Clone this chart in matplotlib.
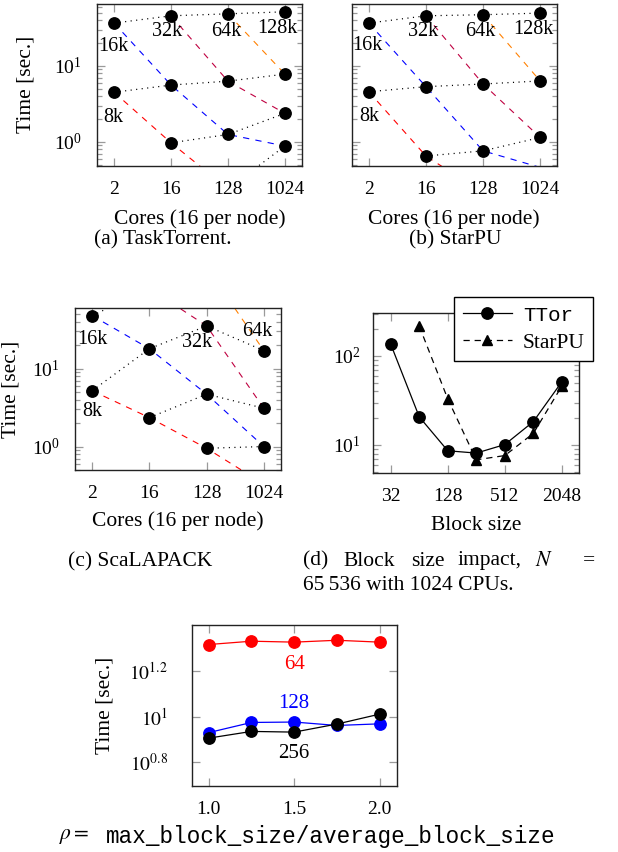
import numpy as np
import matplotlib
matplotlib.use('Agg')
import matplotlib.pyplot as plt
from matplotlib.ticker import LogLocator, NullFormatter, NullLocator, FixedLocator, FixedFormatter

plt.rcParams['font.family'] = ['Liberation Serif', 'DejaVu Serif']
plt.rcParams['mathtext.fontset'] = 'stix'
plt.rcParams['lines.scale_dashes'] = False

nan = np.nan

# ---------------- data ----------------
cores = [2, 16, 128, 1024]
size_labels = ['8k', '16k', '32k', '64k', '128k']
size_colors = ['#ff0000', '#0000ff', '#bf0040', '#ff8000', '#000000']

# times [sec.] per matrix size (rows) and core count (columns)
tasktorrent_times = [
    [4.5, 0.97, 0.24, nan],     # 8k
    [36.7, 5.6, 1.25, 0.88],    # 16k
    [nan, 45.8, 6.3, 2.37],     # 32k
    [nan, nan, 48.6, 7.8],      # 64k
    [nan, nan, nan, 51.7],      # 128k
]
starpu_times = [
    [4.57, 0.65, 0.21, nan],
    [36.7, 5.33, 0.76, 0.46],
    [nan, 45.8, 5.78, 1.14],
    [nan, nan, 47.3, 6.34],
    [nan, nan, nan, 49.7],
]
scalapack_times = [
    [5.2, 2.35, 0.95, 0.33],
    [47.8, 18.0, 4.7, 1.0],
    [nan, 107.0, 35.3, 3.1],
    [nan, nan, 200.0, 17.0],
    [nan, nan, nan, nan],
]

block_sizes_ttor = [32, 64, 128, 256, 512, 1024, 2048]
block_times_ttor = [136, 20.7, 8.6, 8.1, 10.1, 18.3, 51.4]
block_sizes_starpu = [64, 128, 256, 512, 1024, 2048]
block_times_starpu = [217, 32.9, 6.8, 7.6, 13.5, 46]

rho = [1.0, 1.25, 1.5, 1.75, 2.0]
rho_times_64 = [20.6, 21.3, 21.1, 21.5, 21.1]
rho_times_128 = [8.51, 9.42, 9.46, 9.14, 9.29]
rho_times_256 = [8.05, 8.61, 8.55, 9.27, 10.24]

# ---------------- figure ----------------
W, H = 618, 852
fig = plt.figure(figsize=(W / 100, H / 100), dpi=100)

TICK_GRAY = '#9a9a9a'
FS_TICK = 14
FS_LABEL = 15.5
FS_CAP = 15.5
FS_ANN = 14.5


def ax_px(x0, y0, x1, y1):
    return fig.add_axes([x0 / W, 1 - y1 / H, (x1 - x0) / W, (y1 - y0) / H])


def ftext(x, y, s, ha='center', va='center', **kw):
    return fig.text(x / W, 1 - y / H, s, ha=ha, va=va, **kw)


def style_axes(ax):
    for sp in ax.spines.values():
        sp.set_linewidth(1.0)
        sp.set_color('#222222')
    ax.tick_params(which='both', direction='in', top=True, right=True,
                   color=TICK_GRAY, width=0.9, labelsize=FS_TICK)
    ax.tick_params(which='major', length=6)
    ax.tick_params(which='minor', length=3.8)


def scaling_panel(ax, times, ylim, labels, show_y=True):
    ax.set_xscale('log', base=2)
    ax.set_yscale('log')
    # strong scaling (dashed, one colour per size)
    for i in range(4):
        ax.plot(cores, times[i], color=size_colors[i], lw=0.8,
                dashes=(4.5, 4.5), zorder=2)
    # weak scaling (dotted chains)
    for shift in [1, 0, -1, -2]:
        xs, ys = [], []
        for j, c in enumerate(cores):
            k = j + shift
            if 0 <= k < len(times):
                xs.append(c)
                ys.append(times[k][j])
        ax.plot(xs, ys, color='black', lw=0.9, dashes=(0.8, 3.2), zorder=2)
    # points (only those inside the visible range get a marker)
    for i in range(len(times)):
        vals = np.array(times[i], dtype=float)
        inside = (vals >= ylim[0]) & (vals <= ylim[1])
        ax.plot(np.array(cores)[inside], vals[inside], 'o', color='black',
                ms=8.2, zorder=4)
    for (k, j, dx, dy) in labels:
        ax.annotate(size_labels[k], (cores[j], times[k][j]),
                    xytext=(dx, -dy), textcoords='offset pixels',
                    ha='center', va='center', fontsize=FS_ANN, zorder=5,
                    annotation_clip=False)
    ax.set_xlim(2 ** 0.1, 2 ** 10.9)
    ax.set_ylim(*ylim)
    ax.xaxis.set_major_locator(FixedLocator(cores))
    ax.xaxis.set_major_formatter(FixedFormatter([str(c) for c in cores]))
    ax.xaxis.set_minor_locator(NullLocator())
    ax.yaxis.set_major_locator(LogLocator(base=10))
    ax.yaxis.set_minor_locator(LogLocator(base=10, subs=np.arange(2, 10)))
    ax.yaxis.set_minor_formatter(NullFormatter())
    style_axes(ax)
    ax.tick_params(axis='x', pad=10.5)
    ax.tick_params(axis='y', pad=11)
    if not show_y:
        ax.tick_params(axis='y', labelleft=False)


# (a) TaskTorrent
axa = ax_px(97, 4, 302, 166)
scaling_panel(axa, tasktorrent_times, (0.48, 65.5),
              [(1, 0, -1, 23), (0, 0, -1, 25), (2, 1, -4, 16),
               (3, 2, -2, 18), (4, 3, -8, 17)])
ftext(26, 84, 'Time [sec.]', rotation=90, fontsize=FS_LABEL)
ftext(199.7, 219, 'Cores (16 per node)', fontsize=FS_LABEL)
ftext(163, 240, '(a) TaskTorrent.', fontsize=FS_CAP)

# (b) StarPU
axb = ax_px(351.7, 4, 557.3, 166)
scaling_panel(axb, starpu_times, (0.48, 65.5),
              [(1, 0, -1, 22), (0, 0, 0, 25), (2, 1, -3, 16),
               (3, 2, -3, 17), (4, 3, -7, 16)], show_y=False)
ftext(454, 219, 'Cores (16 per node)', fontsize=FS_LABEL)
ftext(455, 240, '(b) StarPU', fontsize=FS_CAP)

# (c) ScaLAPACK
axc = ax_px(75, 308.3, 281, 470)
scaling_panel(axc, scalapack_times, (0.5, 59.4),
              [(1, 0, 0, 24), (0, 0, 0, 21), (2, 2, -10, 17), (3, 3, -7, -19)])
ftext(11, 389, 'Time [sec.]', rotation=90, fontsize=FS_LABEL)
ftext(177.5, 521, 'Cores (16 per node)', fontsize=FS_LABEL)
ftext(140, 562, '(c) ScaLAPACK', fontsize=FS_CAP)

# (d) block size impact
axd = ax_px(373.3, 313.3, 579.3, 473.3)
axd.set_xscale('log', base=2)
axd.set_yscale('log')
axd.plot(block_sizes_ttor, block_times_ttor, '-o', color='black', lw=0.9,
         ms=8.2, label='TTor', zorder=3)
axd.plot(block_sizes_starpu, block_times_starpu, '^', color='black', ls='--',
         dashes=(4.5, 3.5), lw=0.9, ms=7.8, label='StarPU', zorder=3)
axd.set_xlim(2 ** 4.39, 2 ** 11.61)
axd.set_ylim(4.8, 302)
axd.xaxis.set_major_locator(FixedLocator([32, 128, 512, 2048]))
axd.xaxis.set_major_formatter(FixedFormatter(['32', '128', '512', '2048']))
axd.xaxis.set_minor_locator(NullLocator())
axd.yaxis.set_major_locator(LogLocator(base=10))
axd.yaxis.set_minor_locator(LogLocator(base=10, subs=np.arange(2, 10)))
axd.yaxis.set_minor_formatter(NullFormatter())
style_axes(axd)
axd.tick_params(axis='x', pad=10.5)
axd.tick_params(axis='y', pad=9)
leg = axd.legend(loc='upper left', bbox_to_anchor=(454 / W, 1 - 297.3 / H),
                 bbox_transform=fig.transFigure, fontsize=15.5, frameon=True,
                 fancybox=False, edgecolor='black', framealpha=1,
                 handlelength=2.3, handletextpad=0.5, borderpad=0.4,
                 labelspacing=0.35, borderaxespad=0)
leg.get_frame().set_linewidth(1.0)
leg.get_texts()[0].set_family('Liberation Mono')
leg.get_texts()[0].set_fontsize(15)
leg.set_zorder(10)
ftext(476, 526, 'Block size', fontsize=FS_LABEL)
# justified caption (d)
for word, x in [('(d)', 303), ('Block', 343), ('size', 411.3),
                ('impact,', 458), ('$N$', 534.7), ('=', 583)]:
    ftext(x, 561, word, ha='left', fontsize=FS_CAP)
ftext(303, 585.5, '65\u2009536 with 1024 CPUs.', ha='left', fontsize=FS_CAP)

# (e) rho impact
axe = ax_px(191.7, 625, 396.7, 786)
axe.set_yscale('log')
for ys, col, lab, ly in [(rho_times_64, '#ff0000', '64', 16.8),
                         (rho_times_128, '#0000ff', '128', 11.36),
                         (rho_times_256, '#000000', '256', 6.88)]:
    axe.plot(rho, ys, '-o', color=col, lw=0.9, ms=8.2, zorder=3)
    axe.text(1.5, ly, lab, color=col, ha='center', va='center', fontsize=FS_ANN + 0.5)
axe.set_xlim(0.9, 2.1)
axe.set_ylim(10 ** 0.697, 10 ** 1.399)
axe.xaxis.set_major_locator(FixedLocator([1.0, 1.5, 2.0]))
axe.xaxis.set_major_formatter(FixedFormatter(['1.0', '1.5', '2.0']))
axe.xaxis.set_minor_locator(NullLocator())
axe.yaxis.set_major_locator(FixedLocator([10 ** 0.8, 10 ** 1.0, 10 ** 1.2]))
axe.yaxis.set_major_formatter(FixedFormatter([r'$10^{0.8}$', r'$10^{1}$', r'$10^{1.2}$']))
axe.yaxis.set_minor_locator(NullLocator())
style_axes(axe)
axe.tick_params(axis='x', pad=10.5)
axe.tick_params(axis='y', pad=17)
ftext(105, 705.5, 'Time [sec.]', rotation=90, fontsize=FS_LABEL)
ftext(74, 836.7, r'$\rho =$', fontsize=FS_LABEL)
ftext(106, 836.7, 'max_block_size/average_block_size', ha='left',
      fontsize=16.3, family='Liberation Mono')

fig.savefig('out.png', dpi=100)
